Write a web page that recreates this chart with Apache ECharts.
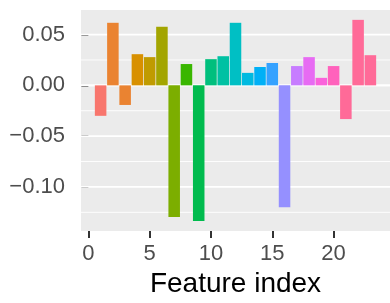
<!DOCTYPE html>
<html>
<head>
<meta charset="utf-8">
<script src="https://cdn.jsdelivr.net/npm/echarts@6/dist/echarts.min.js"></script>
<style>
  html, body { margin: 0; padding: 0; background: #fff; }
  #chart { width: 390px; height: 303px; }
</style>
</head>
<body>
<div id="chart"></div>
<script>
// 特征序号与对应数值
const featureIndex = [1, 2, 3, 4, 5, 6, 7, 8, 9, 10, 11, 12, 13, 14, 15, 16, 17, 18, 19, 20, 21, 22, 23];
const featureValue = [-0.030, 0.0616, -0.0193, 0.0307, 0.0278, 0.0577, -0.1296, 0.021, -0.1335, 0.0258,
  0.0287, 0.0616, 0.0123, 0.0181, 0.022, -0.120, 0.019, 0.0278, 0.0074, 0.019, -0.0332, 0.0645, 0.0297];
const barColors = ['#F8766D', '#EA8331', '#EA8331', '#D89000', '#C09B00', '#A3A500', '#7CAE00', '#39B600',
  '#00BB4E', '#00BF7D', '#00C1A3', '#00BFC4', '#00BAE0', '#00B0F6', '#35A2FF', '#9590FF', '#C77CFF',
  '#E76BF3', '#FA62DB', '#FF62BC', '#FF6A98', '#FF6A98', '#FF6A98'];

// 刻度
const xTicks = [0, 5, 10, 15, 20];
const xMinor = [2.5, 7.5, 12.5, 17.5, 22.5];
const yTicks = [-0.10, -0.05, 0.00, 0.05];
const yMinor = [-0.125, -0.075, -0.025, 0.025];

const font = 'Liberation Sans';

// 网格线数据（竖线 / 横线，主 / 次）
let gridData = [];
xTicks.forEach(v => gridData.push([v, 'x', 1.7]));
xMinor.forEach(v => gridData.push([v, 'x', 0.9]));
yTicks.forEach(v => gridData.push([v, 'y', 1.7]));
yMinor.forEach(v => gridData.push([v, 'y', 0.9]));

let barData = featureIndex.map((x, i) => [x, featureValue[i]]);

let myChart = echarts.init(document.getElementById('chart'));
let option = {
  backgroundColor: '#fff',
  animation: false,
  grid: { left: 81, right: -1, top: 10, bottom: 68, show: true, backgroundColor: '#EBEBEB', borderWidth: 0 },
  xAxis: {
    type: 'value',
    min: -0.6,
    max: 24.6,
    name: 'Feature index',
    nameLocation: 'middle',
    nameGap: 39,
    nameTextStyle: { color: '#000', fontSize: 28, fontFamily: font },
    axisLine: { show: false, onZero: false },
    splitLine: { show: false },
    axisTick: { show: true, length: 7, customValues: xTicks, lineStyle: { color: '#333', width: 2 } },
    axisLabel: {
      customValues: xTicks, margin: 12, color: '#4D4D4D', fontSize: 22, fontFamily: font
    }
  },
  yAxis: {
    type: 'value',
    min: -0.1434,
    max: 0.0742,
    axisLine: { show: false },
    splitLine: { show: false },
    axisTick: { show: true, length: 7, customValues: yTicks, lineStyle: { color: '#333', width: 2 } },
    axisLabel: {
      customValues: yTicks, margin: 16, color: '#4D4D4D', fontSize: 22, fontFamily: font,
      formatter: function (v) { return v.toFixed(2).replace('-', '\u2212'); }
    }
  },
  series: [{
    type: 'custom',
    z: 1,
    silent: true,
    data: gridData,
    renderItem: function (params, api) {
      let cs = params.coordSys;
      let v = api.value(0);
      let w = api.value(2);
      if (api.value(1) === 'x') {
        let px = api.coord([v, 0])[0];
        return { type: 'line', shape: { x1: px, y1: cs.y, x2: px, y2: cs.y + cs.height },
          style: { stroke: '#fff', lineWidth: w } };
      }
      let py = api.coord([0, v])[1];
      return { type: 'line', shape: { x1: cs.x, y1: py, x2: cs.x + cs.width, y2: py },
        style: { stroke: '#fff', lineWidth: w } };
    }
  }, {
    type: 'custom',
    z: 2,
    data: barData,
    renderItem: function (params, api) {
      let x = api.value(0);
      let y = api.value(1);
      let p1 = api.coord([x - 0.47, 0]);
      let p2 = api.coord([x + 0.47, y]);
      return {
        type: 'rect',
        shape: { x: p1[0], y: Math.min(p1[1], p2[1]), width: p2[0] - p1[0], height: Math.abs(p2[1] - p1[1]) },
        style: { fill: barColors[params.dataIndex] }
      };
    }
  }]
};
myChart.setOption(option);
</script>
</body>
</html>
